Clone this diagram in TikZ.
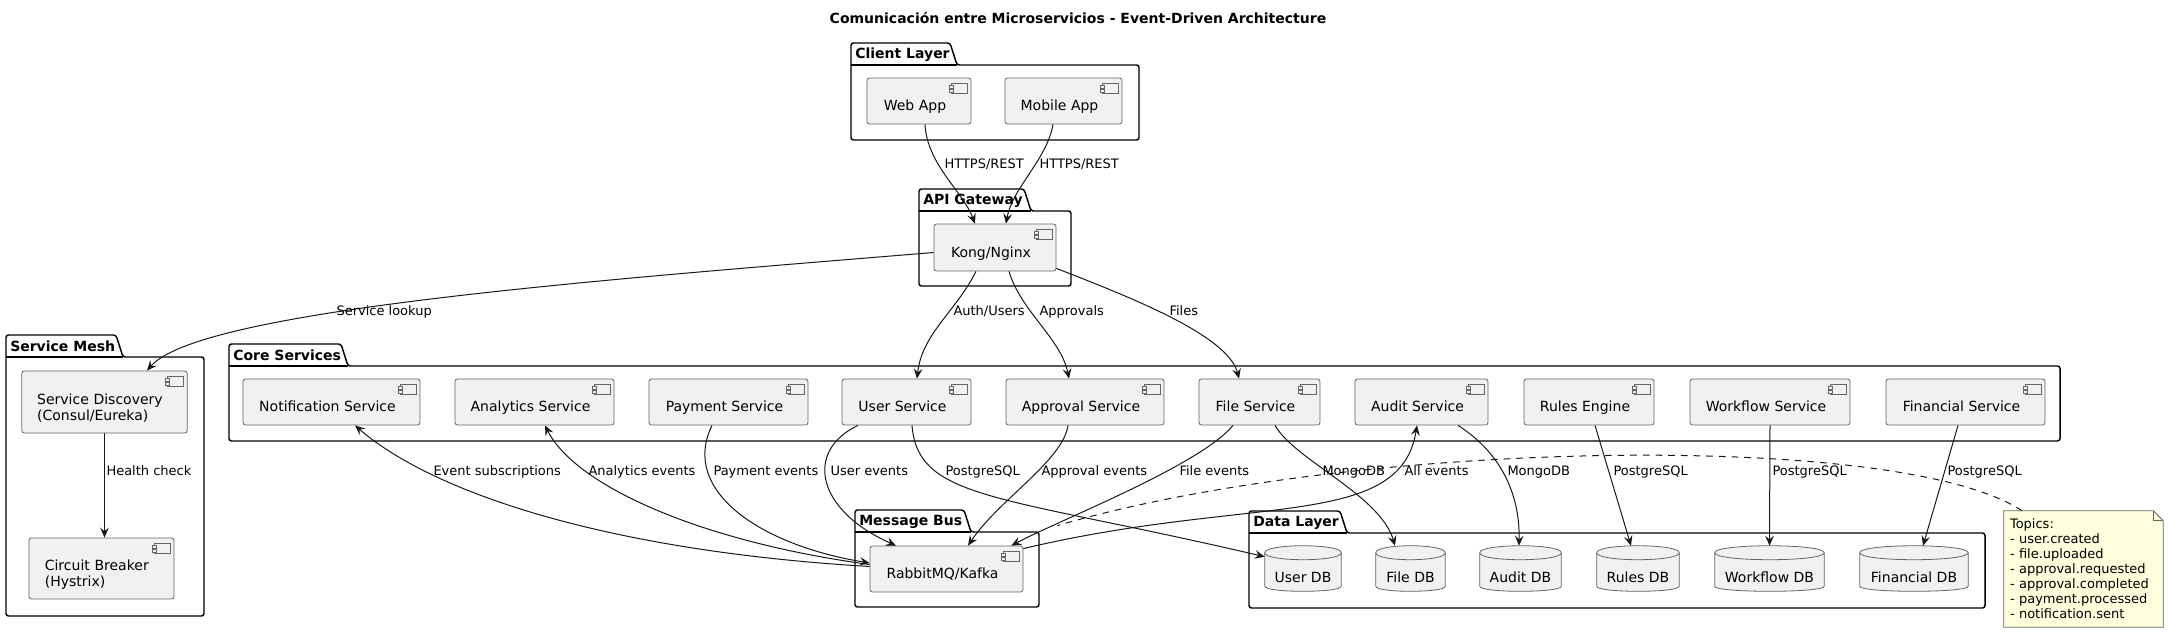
\documentclass[tikz,border=0pt]{standalone}
\usepackage{fontspec}
\setmainfont{DejaVu Sans}
\usetikzlibrary{arrows.meta,backgrounds}

\definecolor{compfill}{HTML}{F1F1F1}
\definecolor{linecol}{HTML}{181818}
\definecolor{notefill}{HTML}{FEFFDD}

\newcommand{\compfont}{\fontsize{10.5pt}{12pt}\selectfont}
\newcommand{\lblfont}{\fontsize{9.75pt}{11.25pt}\selectfont}
\newcommand{\pkgfont}{\fontsize{10.5pt}{12pt}\selectfont\bfseries}

\begin{document}
\begin{tikzpicture}[x=0.75pt,y=-0.75pt,>={Stealth[length=7.5pt,width=6.5pt,inset=2.8pt]},
  comp/.style={draw=black!60,line width=0.6pt,fill=compfill,rounded corners=1.9pt,font=\compfont,
    minimum height=34.5pt,text height=14.5pt,text depth=0pt,execute at end node={\hspace{6pt}}},
  comptwo/.style={comp,align=left,text height=17pt,text depth={},execute at end node={},inner xsep=11.5pt},
  db/.style={font=\compfont,minimum height=33.75pt,text height=21.2pt,text depth=0pt},
  dbshape/.style={draw=black!60,line width=0.6pt,fill=compfill},
  icon/.style={draw=black!60,line width=0.5pt,fill=compfill},
  pkg/.style={draw=black,line width=1.1pt,rounded corners=1.9pt},
  pkgtitle/.style={font=\pkgfont,anchor=west,inner sep=0pt},
  conn/.style={->,draw=linecol,line width=0.75pt},
  notelink/.style={draw=linecol,line width=0.75pt,dash pattern=on 5pt off 4.5pt},
  notebox/.style={draw=black!60,line width=0.6pt,fill=notefill},
  lbl/.style={font=\lblfont,anchor=west,inner sep=0pt,text height=7.3pt,text depth=2.2pt},
  note/.style={font=\lblfont,align=left,text width=110.25pt,inner sep=4.5pt,minimum width=119.25pt,minimum height=87pt}]

\useasboundingbox (0,0) rectangle (2168,632);

\node[font=\pkgfont] (title) at (1078,18) {Comunicación entre Microservicios - Event-Driven Architecture};

% client layer
\node[comp,minimum width=78pt] (web) at (919,101) {Web App};
\node[comp,minimum width=87.75pt] (mobile) at (1063.5,101) {Mobile App};
% api gateway
\node[comp,minimum width=91.5pt,minimum height=35.25pt] (kong) at (995,247.5) {Kong/Nginx};
% service mesh
\node[comptwo,text width=101pt,minimum width=123.75pt,minimum height=46.5pt] (disc) at (104.5,402) {Service Discovery\\(Consul/Eureka)};
\node[comptwo,text width=85pt,minimum width=108.75pt,minimum height=45.75pt] (breaker) at (101.5,568.5) {Circuit Breaker\\(Hystrix)};
% core services
\node[comp,minimum width=132.75pt] (notif) at (331.5,402) {Notification Service};
\node[comp,minimum width=119.25pt] (analytics) at (534.5,402) {Analytics Service};
\node[comp,minimum width=119.25pt] (payment) at (728.5,402) {Payment Service};
\node[comp,minimum width=96.75pt] (user) at (906.5,402) {User Service};
\node[comp,minimum width=118.5pt] (approval) at (1085,402) {Approval Service};
\node[comp,minimum width=90.75pt] (file) at (1259.5,402) {File Service};
\node[comp,minimum width=99.75pt] (audit) at (1421.5,402) {Audit Service};
\node[comp,minimum width=97.5pt] (rules) at (1589,402) {Rules Engine};
\node[comp,minimum width=120pt] (workflow) at (1770,402) {Workflow Service};
\node[comp,minimum width=119.25pt] (financial) at (1965.5,402) {Financial Service};
% message bus
\node[comp,minimum width=114.75pt] (rabbit) at (946.5,569) {RabbitMQ/Kafka};
% data layer
\node[db,minimum width=57pt] (userdb) at (1303,568.5) {User DB};
\node[db,minimum width=51.75pt] (filedb) at (1410.5,568.5) {File DB};
\node[db,minimum width=60.75pt] (auditdb) at (1520.5,568.5) {Audit DB};
\node[db,minimum width=61.5pt] (rulesdb) at (1638,568.5) {Rules DB};
\node[db,minimum width=81.75pt] (workflowdb) at (1769.5,568.5) {Workflow DB};
\node[db,minimum width=81pt] (financialdb) at (1914,568.5) {Financial DB};
% topics note
\node[note] (topics) at (2083.5,569) {Topics:\\- user.created\\- file.uploaded\\- approval.requested\\- approval.completed\\- payment.processed\\- notification.sent};

% packages
\foreach \xa/\ya/\xb/\yb/\xt/\ttl/\nm in {851/43/1139/140/957/Client Layer/clientpkg,
    919/189/1071/286/1031/API Gateway/gatewaypkg,
    6/335/204/616/123/Service Mesh/meshpkg,
    229/344/2060/441/348/Core Services/corepkg,
    855/510/1039/607/971/Message Bus/buspkg,
    1249/511/1985/608/1347/Data Layer/datapkg} {
  \draw[pkg] (\xa,\ya+22) -- (\xa,\ya) -- (\xt-7,\ya) -- (\xt,\ya+22) -- (\xb,\ya+22) -- (\xb,\yb) -- (\xa,\yb) -- cycle;
  \draw[pkg] (\xa,\ya+22) -- (\xt,\ya+22);
  \node[pkgtitle] (\nm) at (\xa+4,\ya+11.5) {\ttl};
}

% component icons
\foreach \c in {web,mobile,kong,disc,breaker,notif,analytics,payment,user,approval,file,audit,rules,workflow,financial,rabbit} {
  \draw[icon] ([shift={(-20,6)}]\c.north east) rectangle ([shift={(-4,16)}]\c.north east);
  \draw[icon] ([shift={(-22,8)}]\c.north east) rectangle ([shift={(-18,10.5)}]\c.north east);
  \draw[icon] ([shift={(-22,12)}]\c.north east) rectangle ([shift={(-18,14.5)}]\c.north east);
}

% databases and note body
\begin{scope}[on background layer]
  \foreach \d in {userdb,filedb,auditdb,rulesdb,workflowdb,financialdb} {
    \path[dbshape] ([shift={(0,7)}]\d.north west) .. controls +(0,-9.3) and +(0,-9.3) .. ([shift={(0,7)}]\d.north east)
      -- ([shift={(0,-5)}]\d.south east) .. controls +(0,6.7) and +(0,6.7) .. ([shift={(0,-5)}]\d.south west) -- cycle;
    \draw[dbshape,fill=none] ([shift={(0,7)}]\d.north west) .. controls +(0,9.3) and +(0,9.3) .. ([shift={(0,7)}]\d.north east);
  }
  \path[notebox] (topics.north west) -- ([shift={(-10,0)}]topics.north east) -- ([shift={(0,10)}]topics.north east)
    -- (topics.south east) -- (topics.south west) -- cycle;
  \draw[notebox,fill=none] ([shift={(-10,0)}]topics.north east) -- ([shift={(-10,10)}]topics.north east) -- ([shift={(0,10)}]topics.north east);
\end{scope}

% clients to gateway
\draw[conn] ([shift={(6,0)}]web.south) .. controls +(2,40) and +(-12,-32) .. ([shift={(-20,0)}]kong.north) node[lbl] (l1) at (944,165) {HTTPS/REST};
\draw[conn] ([shift={(-10.5,0)}]mobile.south) .. controls +(-6,35) and +(6,-35) .. ([shift={(11,0)}]kong.north) node[lbl] (l2) at (1039,165) {HTTPS/REST};
% gateway routes
\draw[conn] ([shift={(0,5)}]kong.west) .. controls +(-334,27.5) and +(53,-61) .. ([shift={(42.5,0)}]disc.north) node[lbl] (l3) at (336,312) {Service lookup};
\draw[conn] ([shift={(-19,0)}]kong.south) .. controls +(-20,40) and +(5,-45) .. ([shift={(10.5,0)}]user.north) node[lbl] (l4) at (953,312) {Auth/Users};
\draw[conn] ([shift={(14,0)}]kong.south) .. controls +(12,40) and +(-8,-40) .. ([shift={(-16,0)}]approval.north) node[lbl] (l5) at (1039,312) {Approvals};
\draw[conn] ([shift={(0,-3)}]kong.south east) .. controls +(69,27) and +(-11,-44) .. ([shift={(-20.5,0)}]file.north) node[lbl] (l6) at (1169,312) {Files};
\draw[conn] (disc.south) -- ([shift={(3,0)}]breaker.north) node[lbl] (l7) at (106,472) {Health check};
% events through the bus
\draw[conn] ([shift={(0,-2.5)}]rabbit.west) .. controls +(-270,-16) and +(75,65) .. ([shift={(23.5,0)}]notif.south) node[lbl] (l8) at (433,472) {Event subscriptions};
\draw[conn] ([shift={(0,-4.5)}]rabbit.west) .. controls +(-170,-23) and +(30,60) .. ([shift={(10.5,0)}]analytics.south) node[lbl] (l9) at (588,472) {Analytics events};
\draw[conn] ([shift={(-16.5,0)}]payment.south) .. controls +(-32,65) and +(-110,-18) .. ([shift={(0,-6)}]rabbit.west) node[lbl] (l10) at (713,472) {Payment events};
\draw[conn] ([shift={(-48.5,0)}]user.south) .. controls +(-53,25) and +(-81,-36) .. ([shift={(-50.5,0)}]rabbit.north) node[lbl] (l11) at (830,472) {User events};
\draw[conn] ([shift={(-17,0)}]approval.south) .. controls +(-5,35) and +(30,-45) .. ([shift={(21.5,0)}]rabbit.north) node[lbl] (l13) at (1041,472) {Approval events};
\draw[conn] ([shift={(-26.5,0)}]file.south) .. controls +(-33,40) and +(49,-26) .. ([shift={(-12,0)}]rabbit.north east) node[lbl] (l14) at (1179,472) {File events};
\draw[conn] ([shift={(0,3)}]rabbit.north east) .. controls +(227,-54) and +(-17,105) .. ([shift={(-4.5,0)}]audit.south) node[lbl] (l16) at (1404,472) {All events};
% storage
\draw[conn] ([shift={(5.5,0)}]user.south) .. controls +(6,75) and +(-265,-62) .. ([shift={(0,11)}]userdb.north west) node[lbl] (l12) at (945,472) {PostgreSQL};
\draw[conn] ([shift={(15.5,0)}]file.south) .. controls +(20,35) and +(-15,-51) .. ([shift={(-15.5,0)}]filedb.north) node[lbl] (l15) at (1322,472) {MongoDB};
\draw[conn] ([shift={(36.5,0)}]audit.south) .. controls +(47,30) and +(1,-46) .. ([shift={(-1.5,0)}]auditdb.north) node[lbl] (l17) at (1507,472) {MongoDB};
\draw[conn] ([shift={(6,0)}]rules.south) -- ([shift={(-7,0)}]rulesdb.north) node[lbl] (l18) at (1613,472) {PostgreSQL};
\draw[conn] (workflow.south) -- (workflowdb.north) node[lbl] (l19) at (1772,472) {PostgreSQL};
\draw[conn] ([shift={(-7.5,0)}]financial.south) -- ([shift={(9,0)}]financialdb.north) node[lbl] (l20) at (1947,472) {PostgreSQL};
% note link
\draw[notelink] ([shift={(-61.5,0)}]topics.north) .. controls +(-122,-81) and +(293,-86) .. ([shift={(34,-20)}]rabbit.north east);
\end{tikzpicture}
\end{document}
